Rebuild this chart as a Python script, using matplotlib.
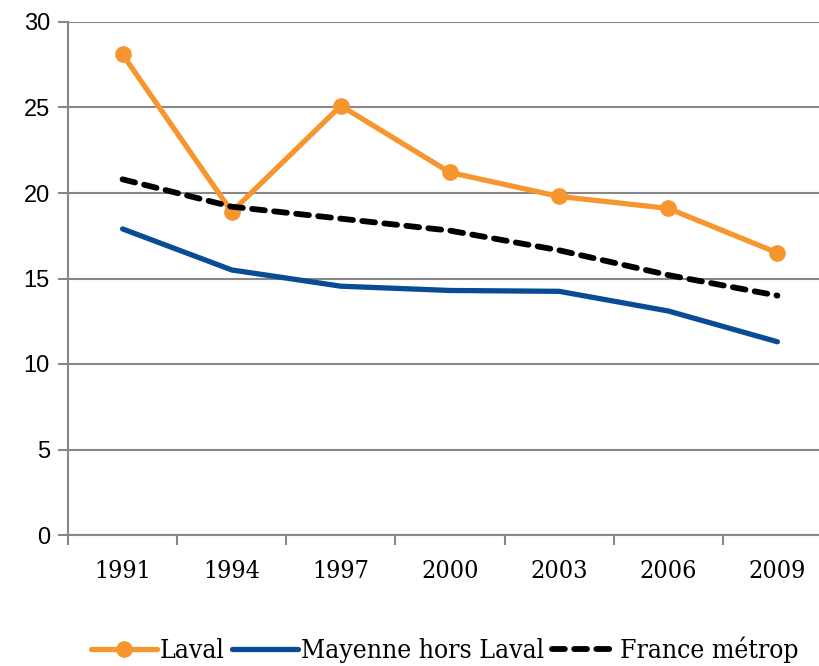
import numpy as np
import matplotlib
matplotlib.use("Agg")
from matplotlib import pyplot as plt

years = ['1991', '1994', '1997', '2000', '2003', '2006', '2009']
laval = [28.1, 18.9, 25.1, 21.2, 19.8, 19.1, 16.5]
mayenne = [17.9, 15.5, 14.55, 14.3, 14.25, 13.1, 11.3]
france = [20.8, 19.2, 18.5, 17.8, 16.65, 15.2, 14.0]

grid_col = '#888888'

fig = plt.figure(figsize=(8.19, 6.66), dpi=100)
ax = fig.add_axes([68 / 819, 1 - 535 / 666, 764 / 819, 513 / 666])

x = np.arange(len(years))
ax.plot(x, laval, color='#F7962F', lw=3.8, marker='o', ms=11, label='Laval',
        solid_capstyle='round')
ax.plot(x, mayenne, color='#0A4B96', lw=3.8, label='Mayenne hors Laval',
        solid_capstyle='round')
ax.plot(x, france, color='black', lw=4.2, ls=(0, (2.2, 1.6)), label='France métrop',
        dash_capstyle='round')

ax.set_xlim(-0.5, len(years) - 0.5)
ax.set_ylim(0, 30)
ax.set_yticks(range(0, 31, 5))
ax.yaxis.grid(True, color=grid_col, lw=1.5)
ax.set_axisbelow(True)

ax.set_xticks(x)
ax.set_xticklabels(years, family='DejaVu Serif', stretch='condensed', fontsize=18)
ax.set_xticks(np.arange(-0.5, len(years), 1), minor=True)
ax.tick_params(axis='x', which='major', length=0, pad=18)
ax.tick_params(axis='x', which='minor', length=7, width=1.5, color=grid_col, direction='out')
ax.tick_params(axis='y', length=7, width=1.5, color=grid_col, labelsize=17, pad=6)
for lab in ax.get_yticklabels():
    lab.set_family('Liberation Sans')

for s in ['top', 'right']:
    ax.spines[s].set_visible(False)
for s in ['left', 'bottom']:
    ax.spines[s].set_color(grid_col)
    ax.spines[s].set_linewidth(1.5)

fig.legend(loc='lower left', bbox_to_anchor=(80 / 819, -8 / 666), ncol=3, frameon=False,
           prop={'family': 'DejaVu Serif', 'stretch': 'condensed', 'size': 19},
           handlelength=2.5, handletextpad=0.1, columnspacing=0.3, borderaxespad=0)

fig.savefig('out.png', dpi=100)
plt.close()
